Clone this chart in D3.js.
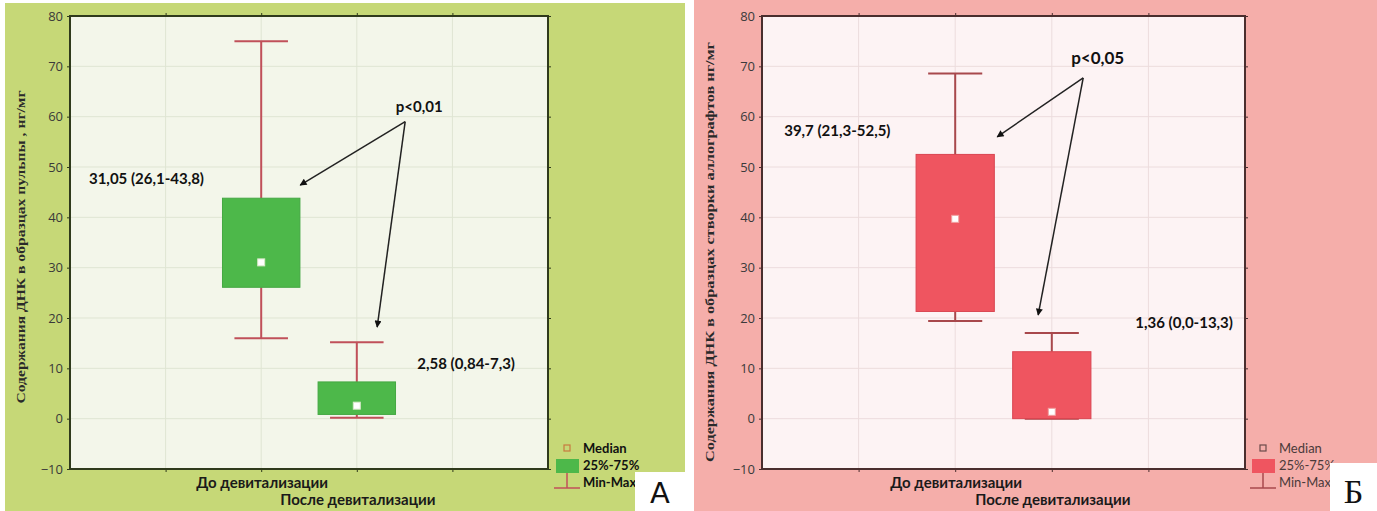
<!DOCTYPE html>
<html>
<head>
<meta charset="utf-8">
<script src="https://cdn.jsdelivr.net/npm/d3@7"></script>
<style>
  body { margin: 0; background: #fff; }
  svg { display: block; }
</style>
</head>
<body>
<svg id="chart" width="1377" height="511"></svg>
<script>
// данные
const categories = ["До девитализации", "После девитализации"];
const yTicks = [-10, 0, 10, 20, 30, 40, 50, 60, 70, 80];

// панель А (пульпа)
const minA = [16, 0.2];
const q1A = [26.1, 0.84];
const medA = [31.05, 2.58];
const q3A = [43.8, 7.3];
const maxA = [75, 15.2];
const labelsA = ["31,05 (26,1-43,8)", "2,58 (0,84-7,3)"];

// панель Б (аллографты)
const minB = [19.4, 0];
const q1B = [21.3, 0];
const medB = [39.7, 1.36];
const q3B = [52.5, 13.3];
const maxB = [68.6, 17.0];
const labelsB = ["39,7 (21,3-52,5)", "1,36 (0,0-13,3)"];

const legendLabels = ["Median", "25%-75%", "Min-Max"];

const svg = d3.select("#chart");

const defs = svg.append("defs");
defs.append("marker")
  .attr("id", "arr")
  .attr("viewBox", "0 0 10 10")
  .attr("refX", 9).attr("refY", 5)
  .attr("markerWidth", 9).attr("markerHeight", 7)
  .attr("markerUnits", "userSpaceOnUse")
  .attr("orient", "auto")
  .append("path").attr("d", "M0,0 L10,5 L0,10 Z").attr("fill", "#111");

function drawPanel(cfg) {
  // фон панели
  svg.append("rect")
    .attr("x", cfg.px).attr("y", cfg.py)
    .attr("width", cfg.pw).attr("height", 511 - cfg.py)
    .attr("fill", cfg.panelBg);

  const x = d3.scaleLinear().domain([-2, 3]).range([cfg.left, cfg.right]);
  const y = d3.scaleLinear().domain([-10, 80]).range([469, 16]);
  const step = x(1) - x(0);

  const g = svg.append("g");

  g.append("rect")
    .attr("x", cfg.left).attr("y", y(80))
    .attr("width", cfg.right - cfg.left).attr("height", y(-10) - y(80))
    .attr("fill", cfg.plotBg);

  // сетка
  g.selectAll("line.hg").data(yTicks.slice(1, -1)).enter().append("line")
    .attr("x1", cfg.left).attr("x2", cfg.right)
    .attr("y1", d => y(d)).attr("y2", d => y(d))
    .attr("stroke", cfg.grid).attr("stroke-width", 1);
  g.selectAll("line.vg").data([-1, 0, 1, 2]).enter().append("line")
    .attr("y1", y(80)).attr("y2", y(-10))
    .attr("x1", d => x(d)).attr("x2", d => x(d))
    .attr("stroke", cfg.grid).attr("stroke-width", 1);

  // оси
  const yAxis = g.append("g")
    .attr("transform", `translate(${cfg.left},0)`)
    .call(d3.axisLeft(y).tickValues(yTicks).tickSize(3).tickPadding(4));
  yAxis.select(".domain").remove();
  yAxis.selectAll("line").attr("stroke", cfg.frame);
  yAxis.selectAll("text")
    .style("font-family", "'Open Sans', sans-serif")
    .style("font-size", "13px")
    .attr("fill", "#3a3a3a");

  const yAxisR = g.append("g")
    .attr("transform", `translate(${cfg.right},0)`)
    .call(d3.axisRight(y).tickValues(yTicks).tickSize(3).tickFormat(""));
  yAxisR.select(".domain").remove();
  yAxisR.selectAll("line").attr("stroke", cfg.frame);

  [["axisTop", y(80)], ["axisBottom", y(-10)]].forEach(([fn, ty]) => {
    const a = g.append("g")
      .attr("transform", `translate(0,${ty})`)
      .call(d3[fn](x).tickValues([-1, 0, 1, 2]).tickSize(3).tickFormat(""));
    a.select(".domain").remove();
    a.selectAll("line").attr("stroke", cfg.frame);
  });

  g.append("rect")
    .attr("x", cfg.left).attr("y", y(80))
    .attr("width", cfg.right - cfg.left).attr("height", y(-10) - y(80))
    .attr("fill", "none").attr("stroke", cfg.frame).attr("stroke-width", 2);

  // подписи категорий
  g.selectAll("text.cat").data(categories).enter().append("text")
    .attr("x", (d, i) => x(i) + 1)
    .attr("y", (d, i) => i === 0 ? 488 : 505)
    .attr("text-anchor", "middle")
    .style("font-family", "Lato, sans-serif")
    .style("font-weight", "bold")
    .style("font-size", "15px")
    .attr("fill", "#1a1a1a")
    .text(d => d);

  // подпись оси Y
  g.append("text")
    .attr("transform", `translate(${cfg.titleX},${cfg.titleY}) rotate(-90)`)
    .attr("text-anchor", "middle")
    .attr("dominant-baseline", "central")
    .attr("textLength", cfg.titleLen)
    .attr("lengthAdjust", "spacingAndGlyphs")
    .style("font-family", "'Liberation Serif', serif")
    .style("font-weight", "bold")
    .style("font-size", "13px")
    .attr("fill", "#2a2a2a")
    .text(cfg.title);

  // боксы
  const idx = [0, 1];
  const bw = step * 0.81, cw = step * 0.56;
  idx.forEach(i => {
    const cx = x(i);
    g.append("line")
      .attr("x1", cx).attr("x2", cx)
      .attr("y1", y(cfg.max[i])).attr("y2", y(cfg.q3[i]))
      .attr("stroke", cfg.whisker).attr("stroke-width", 2);
    g.append("line")
      .attr("x1", cx).attr("x2", cx)
      .attr("y1", y(cfg.q1[i])).attr("y2", y(cfg.min[i]))
      .attr("stroke", cfg.whisker).attr("stroke-width", 2);
    [cfg.max[i], cfg.min[i]].forEach(v => {
      g.append("line")
        .attr("x1", cx - cw / 2).attr("x2", cx + cw / 2)
        .attr("y1", y(v)).attr("y2", y(v))
        .attr("stroke", cfg.whisker).attr("stroke-width", 2);
    });
    g.append("rect")
      .attr("x", cx - bw / 2).attr("y", y(cfg.q3[i]))
      .attr("width", bw).attr("height", y(cfg.q1[i]) - y(cfg.q3[i]))
      .attr("fill", cfg.box).attr("stroke", cfg.boxEdge).attr("stroke-width", 1);
    g.append("rect")
      .attr("x", cx - 3.5).attr("y", y(cfg.med[i]) - 3.5)
      .attr("width", 7).attr("height", 7)
      .attr("fill", "#fff").attr("stroke", cfg.medEdge).attr("stroke-width", 1);
  });

  // аннотации (в единицах шкал)
  const ann = cfg.ann;
  g.append("text")
    .attr("x", x(ann.l1[0])).attr("y", y(ann.l1[1]))
    .attr("text-anchor", "middle").attr("dominant-baseline", "central")
    .style("font-family", "Lato, sans-serif").style("font-weight", "bold")
    .style("font-size", "15px").attr("fill", "#111")
    .text(cfg.labels[0]);
  g.append("text")
    .attr("x", x(ann.l2[0])).attr("y", y(ann.l2[1]))
    .attr("text-anchor", "middle").attr("dominant-baseline", "central")
    .style("font-family", "Lato, sans-serif").style("font-weight", "bold")
    .style("font-size", "15px").attr("fill", "#111")
    .text(cfg.labels[1]);
  g.append("text")
    .attr("x", x(ann.p[0])).attr("y", y(ann.p[1]))
    .attr("text-anchor", "middle").attr("dominant-baseline", "central")
    .style("font-family", "Lato, sans-serif").style("font-weight", "bold")
    .style("font-size", cfg.pSize).attr("fill", "#111")
    .text(cfg.pText);
  [ann.e1, ann.e2].forEach(e => {
    g.append("line")
      .attr("x1", x(ann.o[0])).attr("y1", y(ann.o[1]))
      .attr("x2", x(e[0])).attr("y2", y(e[1]))
      .attr("stroke", "#222").attr("stroke-width", 1.5)
      .attr("marker-end", "url(#arr)");
  });

  // легенда
  const lg = svg.append("g").attr("transform", `translate(${cfg.legX},448)`);
  lg.append("rect").attr("x", -3).attr("y", -3).attr("width", 6).attr("height", 6)
    .attr("fill", "none").attr("stroke", cfg.legMed).attr("stroke-width", 1.2);
  lg.append("rect").attr("x", -11).attr("y", 11).attr("width", 23).attr("height", 14)
    .attr("fill", cfg.box);
  lg.append("line").attr("x1", 0).attr("x2", 0).attr("y1", 25).attr("y2", 40)
    .attr("stroke", cfg.whisker).attr("stroke-width", 1.5);
  lg.append("line").attr("x1", -13).attr("x2", 13).attr("y1", 40).attr("y2", 40)
    .attr("stroke", cfg.whisker).attr("stroke-width", 1.5);
  lg.selectAll("text").data(legendLabels).enter().append("text")
    .attr("x", 16).attr("y", (d, i) => i * 17)
    .attr("dominant-baseline", "central")
    .style("font-family", "Lato, sans-serif")
    .style("font-weight", cfg.legWeight)
    .style("font-size", "13px")
    .attr("fill", cfg.legText)
    .text(d => d);

  // буква панели
  svg.append("rect")
    .attr("x", cfg.tagX).attr("y", cfg.tagY)
    .attr("width", cfg.px + cfg.pw - cfg.tagX).attr("height", 511 - cfg.tagY)
    .attr("fill", "#fff");
  svg.append("text")
    .attr("x", (cfg.tagX + cfg.px + cfg.pw) / 2).attr("y", 503)
    .attr("text-anchor", "middle")
    .style("font-family", cfg.tagFont)
    .style("font-size", cfg.tagSize)
    .attr("fill", "#111")
    .text(cfg.tag);
}

drawPanel({
  px: 5, py: 3, pw: 680,
  left: 70, right: 548,
  panelBg: "#c6d877", plotBg: "#f3f6ea", grid: "#dfe5d3", frame: "#2f3a1c",
  box: "#4db84a", boxEdge: "#44a843", whisker: "#c0505a", medEdge: "#d8e8c8",
  min: minA, q1: q1A, med: medA, q3: q3A, max: maxA,
  labels: labelsA, pText: "p<0,01", pSize: "15px",
  title: "Содержания ДНК в образцах пульпы , нг/мг",
  titleX: 20, titleY: 247, titleLen: 313,
  ann: { l1: [-1.2, 47.8], l2: [2.144, 11.05], p: [1.653, 62.1],
         o: [1.506, 59.0], e1: [0.408, 46.4], e2: [1.213, 18.2] },
  legX: 567, legMed: "#c87a40", legText: "#111", legWeight: "bold",
  tagX: 635, tagY: 472, tag: "А", tagFont: "'DejaVu Sans', sans-serif", tagSize: "29px"
});

drawPanel({
  px: 694, py: 0, pw: 683,
  left: 762, right: 1245,
  panelBg: "#f5aeaa", plotBg: "#fdf3f4", grid: "#ecdcdd", frame: "#4a2e2e",
  box: "#ef5560", boxEdge: "#d94450", whisker: "#a8484c", medEdge: "#f0a0a0",
  min: minB, q1: q1B, med: medB, q3: q3B, max: maxB,
  labels: labelsB, pText: "p<0,05", pSize: "17px",
  title: "Содержания ДНК в образцах створки аллографтов нг/мг",
  titleX: 709, titleY: 252, titleLen: 420,
  ann: { l1: [-1.22, 57.4], l2: [2.37, 19.2], p: [1.475, 71.7],
         o: [1.325, 67.7], e1: [0.435, 56.0], e2: [0.859, 20.6] },
  legX: 1263, legMed: "#6a4a4a", legText: "#4a3a3a", legWeight: "normal",
  tagX: 1330, tagY: 463, tag: "Б", tagFont: "'Liberation Serif', serif", tagSize: "34px"
});
</script>
</body>
</html>
